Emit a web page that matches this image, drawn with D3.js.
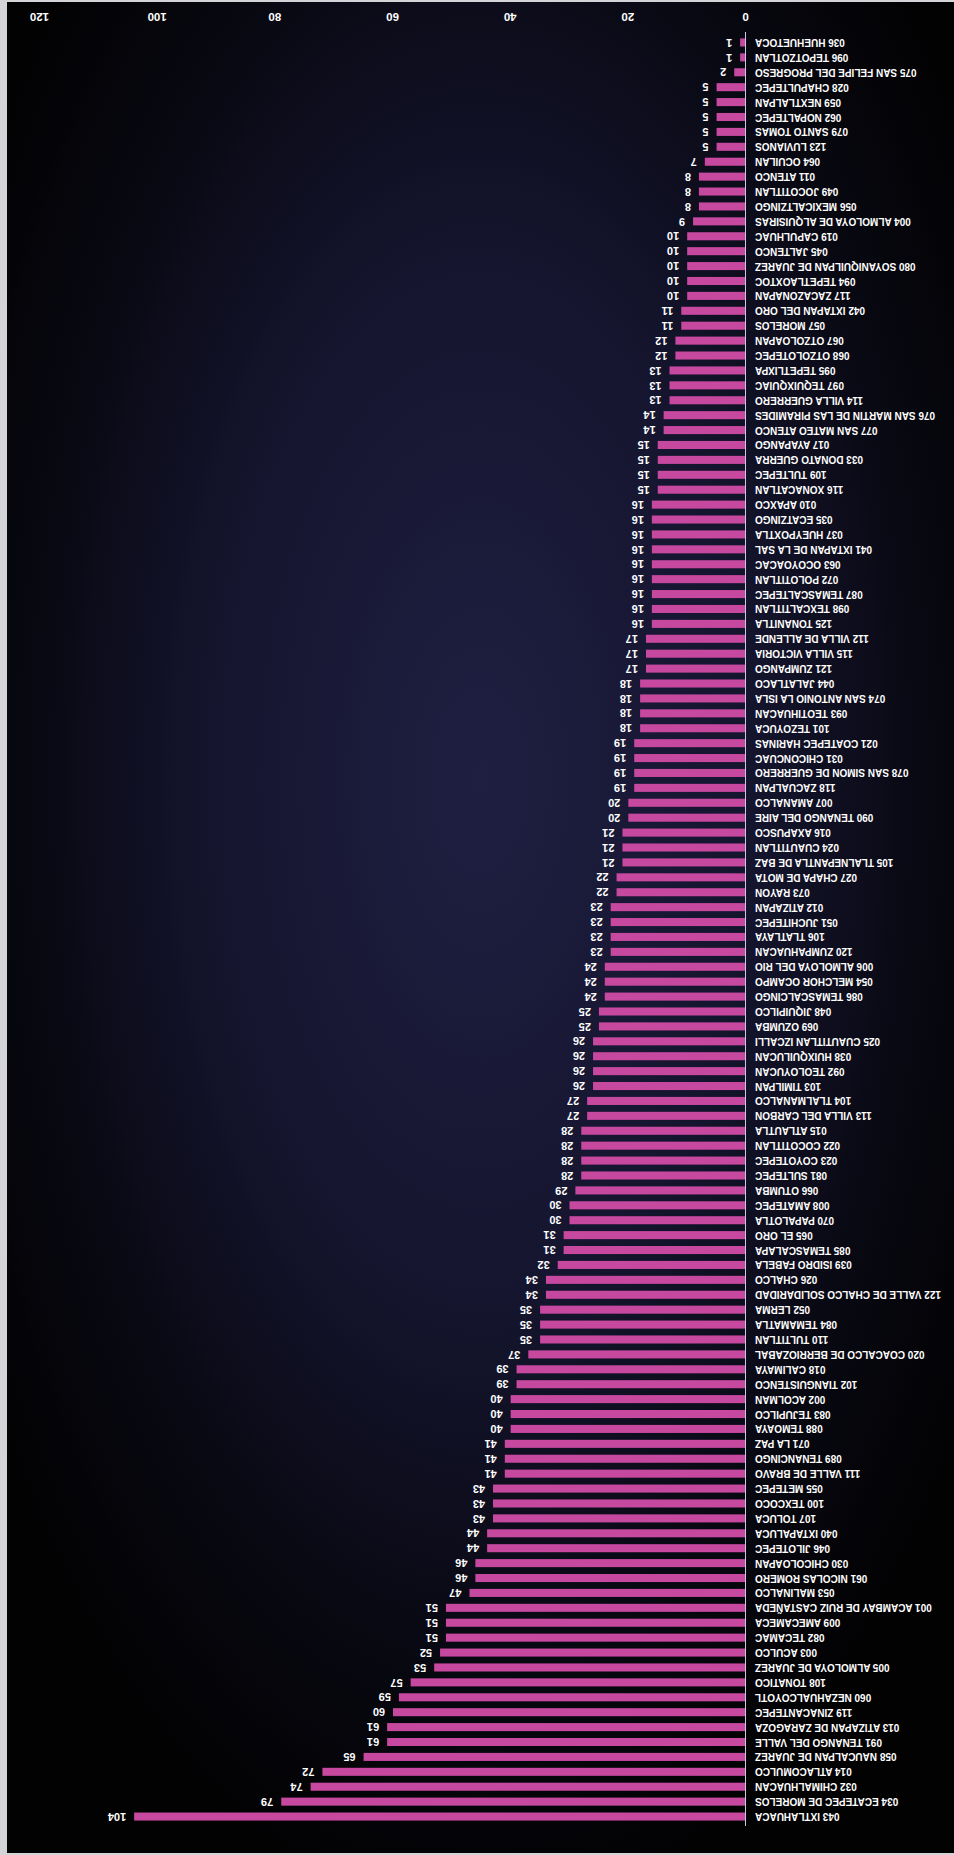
<!DOCTYPE html>
<html lang="es">
<head>
<meta charset="utf-8">
<title>Municipios</title>
<script src="https://cdn.jsdelivr.net/npm/d3@7"></script>
<style>
  html, body { margin: 0; padding: 0; background: #d4d4d8; }
  svg { display: block; }
  .lbl { font: bold 10px "Liberation Sans", Arial, sans-serif; fill: #fff; }
  .val { font: bold 11px "Liberation Sans", Arial, sans-serif; fill: #fff; }
  .axis text { font: bold 11.5px "Liberation Sans", Arial, sans-serif; fill: #fff; }
</style>
</head>
<body>
<svg width="954" height="1855"></svg>
<script>
// municipios, en el orden en que aparecen (de menor a mayor)
var municipios = [
  "036 HUEHUETOCA", "096 TEPOTZOTLAN", "075 SAN FELIPE DEL PROGRESO", "028 CHAPULTEPEC",
  "059 NEXTLALPAN", "062 NOPALTEPEC", "079 SANTO TOMAS", "123 LUVIANOS", "064 OCUILAN",
  "011 ATENCO", "049 JOCOTITLAN", "056 MEXICALTZINGO", "004 ALMOLOYA DE ALQUISIRAS",
  "019 CAPULHUAC", "045 JALTENCO", "080 SOYANIQUILPAN DE JUAREZ", "094 TEPETLAOXTOC",
  "117 ZACAZONAPAN", "042 IXTAPAN DEL ORO", "057 MORELOS", "067 OTZOLOAPAN", "068 OTZOLOTEPEC",
  "095 TEPETLIXPA", "097 TEQUIXQUIAC", "114 VILLA GUERRERO", "076 SAN MARTIN DE LAS PIRAMIDES",
  "077 SAN MATEO ATENCO", "017 AYAPANGO", "033 DONATO GUERRA", "109 TULTEPEC", "116 XONACATLAN",
  "010 APAXCO", "035 ECATZINGO", "037 HUEYPOXTLA", "041 IXTAPAN DE LA SAL", "063 OCOYOACAC",
  "072 POLOTITLAN", "087 TEMASCALTEPEC", "098 TEXCALTITLAN", "125 TONANITLA",
  "112 VILLA DE ALLENDE", "115 VILLA VICTORIA", "121 ZUMPANGO", "044 JALATLACO",
  "074 SAN ANTONIO LA ISLA", "093 TEOTIHUACAN", "101 TEZOYUCA", "021 COATEPEC HARINAS",
  "031 CHICONCUAC", "078 SAN SIMON DE GUERRERO", "118 ZACUALPAN", "007 AMANALCO",
  "090 TENANGO DEL AIRE", "016 AXAPUSCO", "024 CUAUTITLAN", "105 TLALNEPANTLA DE BAZ",
  "027 CHAPA DE MOTA", "073 RAYON", "012 ATIZAPAN", "051 JUCHITEPEC", "106 TLATLAYA",
  "120 ZUMPAHUACAN", "006 ALMOLOYA DEL RIO", "054 MELCHOR OCAMPO", "086 TEMASCALCINGO",
  "048 JIQUIPILCO", "069 OZUMBA", "025 CUAUTITLAN IZCALLI", "038 HUIXQUILUCAN",
  "092 TEOLOYUCAN", "103 TIMILPAN", "104 TLALMANALCO", "113 VILLA DEL CARBON",
  "015 ATLAUTLA", "022 COCOTITLAN", "023 COYOTEPEC", "081 SULTEPEC", "066 OTUMBA",
  "008 AMATEPEC", "070 PAPALOTLA", "065 EL ORO", "085 TEMASCALAPA", "039 ISIDRO FABELA",
  "026 CHALCO", "122 VALLE DE CHALCO SOLIDARIDAD", "052 LERMA", "084 TEMAMATLA",
  "110 TULTITLAN", "020 COACALCO DE BERRIOZABAL", "018 CALIMAYA", "102 TIANGUISTENCO",
  "002 ACOLMAN", "083 TEJUPILCO", "088 TEMOAYA", "071 LA PAZ", "089 TENANCINGO",
  "111 VALLE DE BRAVO", "055 METEPEC", "100 TEXCOCO", "107 TOLUCA", "040 IXTAPALUCA",
  "046 JILOTEPEC", "030 CHICOLOAPAN", "061 NICOLAS ROMERO", "053 MALINALCO",
  "001 ACAMBAY DE RUIZ CASTAÑEDA", "009 AMECAMECA", "082 TECAMAC", "003 ACULCO",
  "005 ALMOLOYA DE JUAREZ", "108 TONATICO", "060 NEZAHUALCOYOTL", "119 ZINACANTEPEC",
  "013 ATIZAPAN DE ZARAGOZA", "091 TENANGO DEL VALLE", "058 NAUCALPAN DE JUAREZ",
  "014 ATLACOMULCO", "032 CHIMALHUACAN", "034 ECATEPEC DE MORELOS", "043 IXTLAHUACA"
];

var valores = [
  1, 1, 2, 5, 5, 5, 5, 5, 7, 8, 8, 8, 9, 10, 10, 10, 10, 10, 11, 11, 12, 12,
  13, 13, 13, 14, 14, 15, 15, 15, 15, 16, 16, 16, 16, 16, 16, 16, 16, 16,
  17, 17, 17, 18, 18, 18, 18, 19, 19, 19, 19, 20, 20, 21, 21, 21, 22, 22,
  23, 23, 23, 23, 24, 24, 24, 25, 25, 26, 26, 26, 26, 27, 27, 28, 28, 28, 28,
  29, 30, 30, 31, 31, 32, 34, 34, 35, 35, 35, 37, 39, 39, 40, 40, 40, 41, 41,
  41, 43, 43, 43, 44, 44, 46, 46, 47, 51, 51, 51, 52, 53, 57, 59, 60, 61, 61,
  65, 72, 74, 79, 104
];

var ticks = [0, 20, 40, 60, 80, 100, 120];

var svg = d3.select("svg"),
    W = +svg.attr("width"),
    H = +svg.attr("height");

var data = municipios.map(function(m, i) { return {name: m, value: valores[i]}; });

// fondo azul oscuro con viñeta
var defs = svg.append("defs");
var grad = defs.append("radialGradient")
    .attr("id", "bg")
    .attr("cx", "50%").attr("cy", "42%")
    .attr("r", "62%")
    .attr("fx", "50%").attr("fy", "42%");
grad.append("stop").attr("offset", "0%").attr("stop-color", "#1f1f42");
grad.append("stop").attr("offset", "45%").attr("stop-color", "#15152f");
grad.append("stop").attr("offset", "80%").attr("stop-color", "#07070f");
grad.append("stop").attr("offset", "100%").attr("stop-color", "#020203");

svg.append("rect")
    .attr("x", 7).attr("y", 2)
    .attr("width", W - 7).attr("height", H - 4)
    .attr("fill", "url(#bg)");

// la gráfica está impresa de cabeza: se dibuja normal y se gira 180°
var g = svg.append("g")
    .attr("transform", "rotate(180 " + (W / 2) + " " + (H / 2) + ")");

var x = d3.scaleLinear()
    .domain([0, 120])
    .range([208, 914]);

var y = d3.scaleBand()
    .domain(municipios)
    .range([1820, 31])
    .paddingInner(0.46)
    .paddingOuter(0.23);

g.selectAll(".bar")
  .data(data)
  .enter().append("rect")
    .attr("class", "bar")
    .attr("x", x(0))
    .attr("y", function(d) { return y(d.name); })
    .attr("width", function(d) { return x(d.value) - x(0); })
    .attr("height", y.bandwidth())
    .attr("fill", "#c6489f");

// línea del cero
g.append("line")
    .attr("x1", x(0) + 0.5).attr("x2", x(0) + 0.5)
    .attr("y1", 29).attr("y2", 1823)
    .attr("stroke", "#c9c9e6")
    .attr("stroke-width", 1);

g.selectAll(".lbl")
  .data(data)
  .enter().append("text")
    .attr("class", "lbl")
    .attr("x", x(0) - 9)
    .attr("y", function(d) { return y(d.name) + y.bandwidth() / 2; })
    .attr("dy", "0.35em")
    .attr("text-anchor", "end")
    .text(function(d) { return d.name; });

g.selectAll(".val")
  .data(data)
  .enter().append("text")
    .attr("class", "val")
    .attr("x", function(d) { return x(d.value) + 8; })
    .attr("y", function(d) { return y(d.name) + y.bandwidth() / 2; })
    .attr("dy", "0.35em")
    .attr("text-anchor", "start")
    .text(function(d) { return d.value; });

var axis = g.append("g")
    .attr("class", "axis")
    .attr("transform", "translate(0,1828)")
    .call(d3.axisBottom(x).tickValues(ticks).tickSize(0).tickPadding(6));
axis.select(".domain").remove();
</script>
</body>
</html>
